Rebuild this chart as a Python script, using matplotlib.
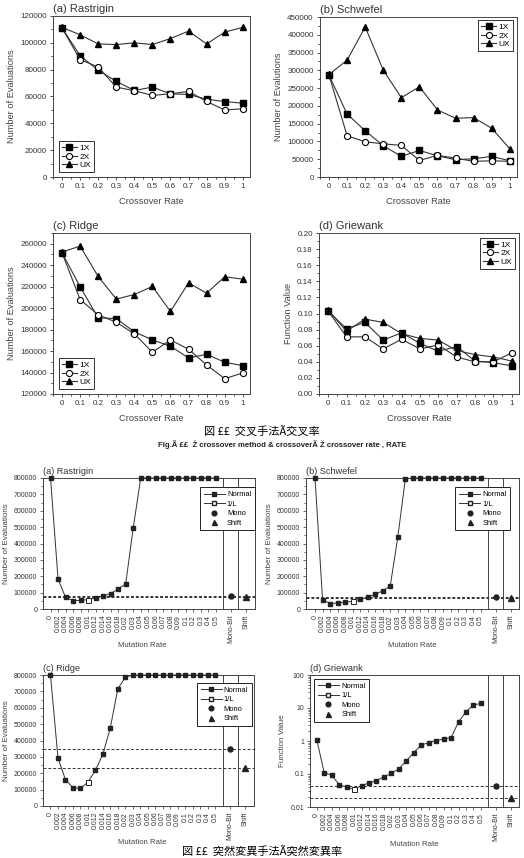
import numpy as np
import matplotlib.pyplot as plt
from matplotlib.lines import Line2D
from matplotlib.ticker import AutoMinorLocator, FormatStrFormatter

plt.rcParams['font.family'] = ['Liberation Sans', 'Noto Sans CJK JP', 'DejaVu Sans']

# ---- crossover data (upper figure) ----
cx_rate = [0, 0.1, 0.2, 0.3, 0.4, 0.5, 0.6, 0.7, 0.8, 0.9, 1]
cx_ticks = ['0', '0.1', '0.2', '0.3', '0.4', '0.5', '0.6', '0.7', '0.8', '0.9', '1']

ras_1x = [111000, 90500, 79500, 71300, 64500, 67000, 62000, 61500, 58000, 56200, 55000]
ras_2x = [111000, 87500, 82000, 67000, 64300, 60800, 62000, 63800, 56300, 50000, 50800]
ras_ux = [111500, 106000, 99200, 98700, 100000, 98700, 103200, 108700, 99200, 108000, 111500]

sch_1x = [286000, 177000, 130000, 88000, 58000, 74700, 59700, 48500, 51300, 57900, 45700]
sch_2x = [286000, 116000, 99000, 93400, 88700, 46700, 60700, 53200, 43900, 45700, 43900]
sch_ux = [288500, 328600, 422000, 300600, 223100, 253900, 188600, 165200, 167100, 137200, 79400]

rid_1x = [251600, 219900, 190900, 190300, 177900, 170400, 164500, 153600, 157000, 149600, 146400]
rid_2x = [251600, 208000, 193700, 186900, 176000, 158900, 170400, 161700, 147100, 134300, 139600]
rid_ux = [252200, 257800, 229500, 208400, 212700, 220200, 196900, 223600, 213900, 229200, 227000]

gri_1x = [0.103, 0.081, 0.089, 0.067, 0.076, 0.063, 0.053, 0.059, 0.041, 0.039, 0.035]
gri_2x = [0.103, 0.071, 0.071, 0.056, 0.068, 0.056, 0.061, 0.046, 0.040, 0.040, 0.051]
gri_ux = [0.104, 0.078, 0.093, 0.089, 0.075, 0.069, 0.067, 0.054, 0.049, 0.046, 0.041]

# ---- mutation data (lower figure) ----
mut_labels = ['0', '0.002', '0.004', '0.006', '0.008', '0.01', '0.012', '0.014', '0.016',
              '0.018', '0.02', '0.03', '0.04', '0.05', '0.06', '0.07', '0.08', '0.09',
              '0.1', '0.2', '0.3', '0.4', '0.5']
extra_labels = ['Mono-Bit', 'Shift']
onel_label = '0.01'

ras_normal = [800000, 183000, 71000, 51000, 53000, 57000, 67000, 81000, 94000, 122000, 153000,
              495000, 800000, 800000, 800000, 800000, 800000, 800000, 800000, 800000, 800000,
              800000, 800000]
ras_mono, ras_shift = 82000, 73000

sch_normal = [800000, 57000, 33000, 37000, 41000, 47000, 59000, 71000, 92000, 110000, 142000,
              440000, 794000, 800000, 800000, 800000, 800000, 800000, 800000, 800000, 800000,
              800000, 800000]
sch_mono, sch_shift = 75000, 69000

rid_normal = [800000, 294000, 161000, 112000, 108000, 145000, 218000, 316000, 478000, 716000,
              786000, 800000, 800000, 800000, 800000, 800000, 800000, 800000, 800000, 800000,
              800000, 800000, 800000]
rid_mono, rid_shift = 350000, 235000

gri_normal = [1.11, 0.110, 0.092, 0.048, 0.040, 0.0344, 0.0445, 0.0536, 0.063, 0.0815, 0.105,
              0.143, 0.25, 0.447, 0.746, 0.90, 1.03, 1.14, 1.25, 3.82, 7.7, 12.3, 13.8]
gri_mono, gri_shift = 0.0435, 0.0192

W, H = 524, 858
fig = plt.figure(figsize=(W / 100, H / 100), dpi=100)
lc = '#333333'


def rect(l, r, t, b):
    return [l / W, 1 - b / H, (r - l) / W, (b - t) / H]


def crossover_panel(box, title, ylabel, d1, d2, d3, ylim, ystep, fmt, legloc, anchor):
    ax = fig.add_axes(box)
    ax.plot(cx_rate, d1, '-s', color=lc, mfc='k', mec='k', ms=3.8, lw=0.8, label='1X')
    ax.plot(cx_rate, d2, '-o', color=lc, mfc='white', mec='k', mew=0.8, ms=4.4, lw=0.8, label='2X')
    ax.plot(cx_rate, d3, '-^', color=lc, mfc='k', mec='k', ms=4.6, lw=0.8, label='UX')
    ax.set_xlim(-0.05, 1.04)
    ax.set_ylim(*ylim)
    ax.set_xticks(cx_rate)
    ax.set_xticklabels(cx_ticks)
    ax.set_yticks(np.arange(ylim[0], ylim[1] + ystep * 0.01, ystep))
    ax.yaxis.set_major_formatter(FormatStrFormatter(fmt))
    ax.xaxis.set_minor_locator(AutoMinorLocator(2))
    ax.yaxis.set_minor_locator(AutoMinorLocator(2))
    ax.tick_params(labelsize=5.8, length=2.5, width=0.6, pad=2, colors='#333333')
    ax.tick_params(which='minor', length=1.5, width=0.5)
    for s in ax.spines.values():
        s.set_linewidth(0.7)
        s.set_color('#444444')
    ax.set_xlabel('Crossover Rate', fontsize=6.7, color='#444444', labelpad=5)
    ax.set_ylabel(ylabel, fontsize=6.7, color='#444444', labelpad=3)
    ax.set_title(title, fontsize=8, loc='left', color='#333333', pad=3)
    leg = ax.legend(loc=legloc, bbox_to_anchor=anchor, fontsize=6, frameon=True, fancybox=False,
                    edgecolor='k', handlelength=1.8, handletextpad=0.3, labelspacing=0.1,
                    borderpad=0.35, borderaxespad=0)
    leg.get_frame().set_linewidth(0.7)
    return ax


crossover_panel(rect(53, 250, 16, 177), '(a) Rastrigin', 'Number of Evaluations',
                ras_1x, ras_2x, ras_ux, (0, 120000), 20000, '%d', 'lower left', (0.03, 0.03))
crossover_panel(rect(320, 517, 17, 177), '(b) Schwefel', 'Number of Evalutions',
                sch_1x, sch_2x, sch_ux, (0, 450000), 50000, '%d', 'upper right', (0.98, 0.98))
crossover_panel(rect(53, 250, 233, 394), '(c) Ridge', 'Number of Evaluations',
                rid_1x, rid_2x, rid_ux, (120000, 270000), 20000, '%d', 'lower left', (0.03, 0.03))
crossover_panel(rect(319, 519, 233, 394), '(d) Griewank', 'Function Value',
                gri_1x, gri_2x, gri_ux, (0, 0.20), 0.02, '%.2f', 'upper right', (0.98, 0.97))

fig.text(0.5, 1 - 432 / H, '図 ££  交叉手法Ã交叉率', ha='center', va='center', fontsize=8,
         family=['Noto Sans CJK JP', 'DejaVu Sans'])
fig.text(282 / W, 1 - 445 / H, 'Fig.Ã ££  Ž crossover method & crossoverÃ Ž crossover rate , RATE',
         ha='center', va='center', fontsize=5.6, weight='bold', color='#222222')

mut_x = list(range(len(mut_labels)))
extra_x = [24, 26]


def mutation_panel(box, title, ylabel, normal, mono, shift, log=False, legloc='upper right',
                   anchor=(1.0, 0.93), xlim=(-1, 27.2), xlab_x=0.47):
    ax = fig.add_axes(box)
    oi = mut_labels.index(onel_label)
    ax.plot(mut_x, normal, '-s', color=lc, mfc='#222222', mec='#222222', ms=3.4, lw=0.7,
            markevery=[i for i in mut_x if i != oi], clip_on=False, zorder=3)
    ax.plot([mut_x[oi]], [normal[oi]], 's', mfc='white', mec='#222222', mew=0.7, ms=3.6, zorder=4)
    ax.axhline(mono, ls='--', color='#333333', lw=0.7, dashes=(3, 2))
    ax.axhline(shift, ls='--', color='#333333', lw=0.7, dashes=(3, 2))
    ax.plot([extra_x[0]], [mono], 'o', color='#222222', ms=3.6, clip_on=False, zorder=4)
    ax.plot([extra_x[1]], [shift], '^', color='#222222', ms=3.8, clip_on=False, zorder=4)
    ax.axvline(23, color='#444444', lw=0.7)
    ax.axvline(25, color='#444444', lw=0.7)
    ax.set_xlim(*xlim)
    if log:
        ax.set_yscale('log')
        ax.set_ylim(0.01, 100)
        ax.set_yticks([0.01, 0.1, 1, 10, 100])
        ax.set_yticklabels(['0.01', '0.1', '1', '10', '100'])
    else:
        ax.set_ylim(0, 800000)
        ax.set_yticks(np.arange(0, 800001, 100000))
        ax.yaxis.set_major_formatter(FormatStrFormatter('%d'))
        ax.yaxis.set_minor_locator(AutoMinorLocator(2))
    ax.set_xticks(mut_x + extra_x)
    ax.set_xticklabels(mut_labels + extra_labels, rotation=90)
    ax.tick_params(labelsize=5, length=2.2, width=0.5, pad=2, colors='#333333')
    ax.tick_params(which='minor', length=1.3, width=0.4)
    for s in ax.spines.values():
        s.set_linewidth(0.7)
        s.set_color('#444444')
    ax.set_xlabel('Mutation Rate', fontsize=5.6, color='#444444')
    ax.xaxis.set_label_coords(xlab_x, -0.255)
    ax.set_ylabel(ylabel, fontsize=5.8, color='#444444', labelpad=3)
    ax.set_title(title, fontsize=6.6, loc='left', color='#333333', pad=3)
    handles = [
        Line2D([], [], color=lc, lw=0.7, marker='s', mfc='#222222', mec='#222222', ms=3.4),
        Line2D([], [], color=lc, lw=0.7, marker='s', mfc='white', mec='#222222', ms=3.4),
        Line2D([], [], ls='none', marker='o', color='#222222', ms=3.4),
        Line2D([], [], ls='none', marker='^', color='#222222', ms=3.6),
    ]
    leg = ax.legend(handles, ['Normal', '1/L', 'Mono', 'Shift'], loc=legloc, bbox_to_anchor=anchor,
                    fontsize=5.4, frameon=True, fancybox=False, edgecolor='#222222', framealpha=1,
                    handlelength=2.8, handletextpad=0.3, labelspacing=0.3, borderpad=0.5,
                    borderaxespad=0)
    leg.get_frame().set_linewidth(0.7)
    return ax


mutation_panel(rect(43, 255, 478, 609), '(a) Rastrigin', 'Number of Evaluations',
               ras_normal, ras_mono, ras_shift, anchor=(1.0, 0.93))
mutation_panel(rect(306, 519, 478, 609), '(b) Schwefel', 'Number of Evaluations',
               sch_normal, sch_mono, sch_shift, anchor=(0.96, 0.93), xlim=(-1.2, 27.1),
               xlab_x=0.5)
mutation_panel(rect(43, 254, 675, 806), '(c) Ridge', 'Number of Evaluations',
               rid_normal, rid_mono, rid_shift, anchor=(0.99, 0.94))
mutation_panel(rect(310, 519, 675, 807), '(d) Griewank', 'Function Value',
               gri_normal, gri_mono, gri_shift, log=True, legloc='upper left',
               anchor=(0.02, 0.97), xlim=(-0.9, 27.1), xlab_x=0.5)

fig.text(0.5, 1 - 852 / H, '図 ££  突然変異手法Ã突然変異率', ha='center', va='center', fontsize=8,
         family=['Noto Sans CJK JP', 'DejaVu Sans'])

fig.savefig('out.png', dpi=100)
